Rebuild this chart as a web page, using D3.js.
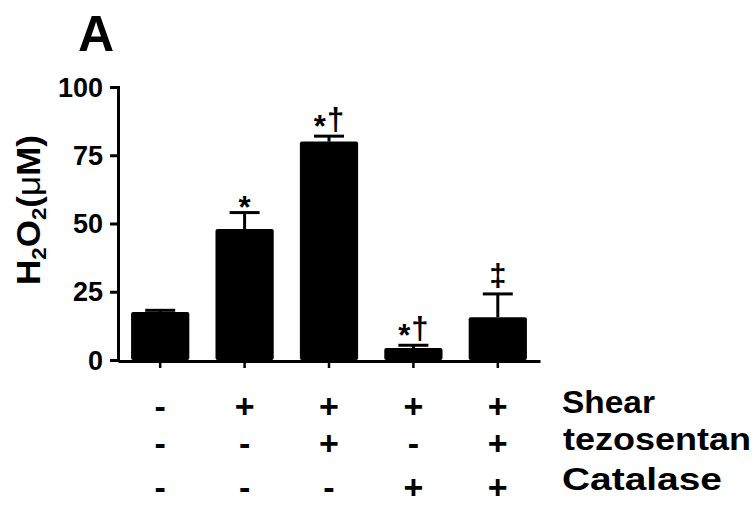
<!doctype html>
<html lang="en">
  <head>
    <meta charset="utf-8">
    <script src="https://cdn.jsdelivr.net/npm/d3@7"></script>
    <style>
body { margin: 0; background: #fff; }
svg text { font-family: "Liberation Sans", Arial, sans-serif; font-weight: bold; fill: #000; }
    </style>
  </head>
  <body>
    <svg id="chart" width="755" height="506"></svg>
    <script>
//=============================== DATA ===================================
var groups    = ['g1', 'g2', 'g3', 'g4', 'g5']
var means     = [17.6, 48, 80, 4.4, 15.7]
var errors    = [0.6, 6, 2, 1, 8.5]
var marks     = ['', '*', '*†', '*†', '‡']
var yTicks    = [0, 25, 50, 75, 100]
var rowNames  = ['Shear', 'tezosentan', 'Catalase']
var shear     = ['-', '+', '+', '+', '+']
var tezo      = ['-', '-', '+', '-', '+']
var catalase  = ['-', '-', '-', '+', '+']
var rows      = [shear, tezo, catalase]

//=============================== DRAW ===================================
var svg = d3.select('#chart')

var x = d3.scaleBand().domain(groups).range([118, 540])
	.paddingInner(0.31).paddingOuter(0.155)
var y = d3.scaleLinear().domain([0, 100]).range([360, 87])
var cx = function(d) { return x(d) + x.bandwidth() / 2 }

// panel letter
svg.append('text').attr('x', 78).attr('y', 51)
	.style('font-size', '50px').text('A')

// y axis
var yAxis = d3.axisLeft(y).tickValues(yTicks).tickSize(8).tickPadding(7)
var gy = svg.append('g').attr('transform', 'translate(118,0)').call(yAxis)
gy.select('.domain').attr('stroke', '#000').attr('stroke-width', 3)
gy.selectAll('.tick line').attr('stroke', '#000').attr('stroke-width', 3)
gy.selectAll('.tick text').style('font-size', '27px').attr('dy', '0.34em')
	.style('font-family', '"Liberation Sans", Arial, sans-serif').style('font-weight', 'bold')

// x axis baseline with ticks below
var xAxis = d3.axisBottom(x).tickSize(7).tickFormat('').tickSizeOuter(0)
var gx = svg.append('g').attr('transform', 'translate(0,361)').call(xAxis)
gx.select('.domain').attr('stroke', '#000').attr('stroke-width', 3)
gx.selectAll('.tick line').attr('stroke', '#000').attr('stroke-width', 2.5)

// y axis title
var yt = svg.append('text')
	.attr('transform', 'translate(40,210) rotate(-90)')
	.attr('text-anchor', 'middle')
	.style('font-size', '33px')
yt.append('tspan').text('H')
yt.append('tspan').attr('baseline-shift', '-30%').style('font-size', '21px').text('2')
yt.append('tspan').text('O')
yt.append('tspan').attr('baseline-shift', '-30%').style('font-size', '21px').text('2')
yt.append('tspan').text('(')
yt.append('tspan').style('font-weight', 'normal').text('μ')
yt.append('tspan').text('M)')
yt.attr('textLength', 150).attr('lengthAdjust', 'spacingAndGlyphs')

// error bars (upper only)
var err = svg.append('g').attr('stroke', '#000').attr('stroke-width', 3)
groups.forEach(function(g, i) {
	var top = y(means[i] + errors[i])
	err.append('line').attr('x1', cx(g)).attr('x2', cx(g))
		.attr('y1', y(means[i])).attr('y2', top)
	err.append('line').attr('x1', cx(g) - 15).attr('x2', cx(g) + 15)
		.attr('y1', top).attr('y2', top)
})

// bars
svg.append('g').selectAll('rect')
	.data(groups).enter()
	.append('rect')
	.attr('x', function(d) { return x(d) })
	.attr('width', x.bandwidth())
	.attr('y', function(d, i) { return y(means[i]) })
	.attr('height', function(d, i) { return y(0) - y(means[i]) })
	.attr('rx', 2)
	.attr('fill', '#000')

// significance marks, the asterisk sits lower than the font puts it
groups.forEach(function(g, i) {
	if (!marks[i]) return
	var t = svg.append('text')
		.attr('x', cx(g))
		.attr('y', y(means[i] + errors[i]) - 6)
		.attr('text-anchor', 'middle')
		.style('font-size', '31px')
	var m = marks[i]
	if (m == '*') {
		t.append('tspan').attr('dy', 11).text('*')
	} else if (m[0] == '*') {
		t.append('tspan').attr('dy', 7).text('*')
		t.append('tspan').attr('dy', -7).attr('dx', 1).text(m.substr(1))
	} else {
		t.append('tspan').attr('dy', -2).text(m)
	}
})

// treatment table
var signY = [406, 443, 487]
var nameY = [413, 450, 490]
var nameX = [562, 563, 562]
var nameW = [93, 188, 160]
rows.forEach(function(r, j) {
	svg.append('g').selectAll('text')
		.data(groups).enter()
		.append('text')
		.attr('x', cx)
		.attr('y', signY[j])
		.attr('dy', '0.34em')
		.attr('text-anchor', 'middle')
		.style('font-size', '34px')
		.text(function(d, i) { return r[i] })
	svg.append('text').attr('x', nameX[j]).attr('y', nameY[j])
		.style('font-size', '31px')
		.attr('textLength', nameW[j]).attr('lengthAdjust', 'spacingAndGlyphs')
		.text(rowNames[j])
})
    </script>
  </body>
</html>
